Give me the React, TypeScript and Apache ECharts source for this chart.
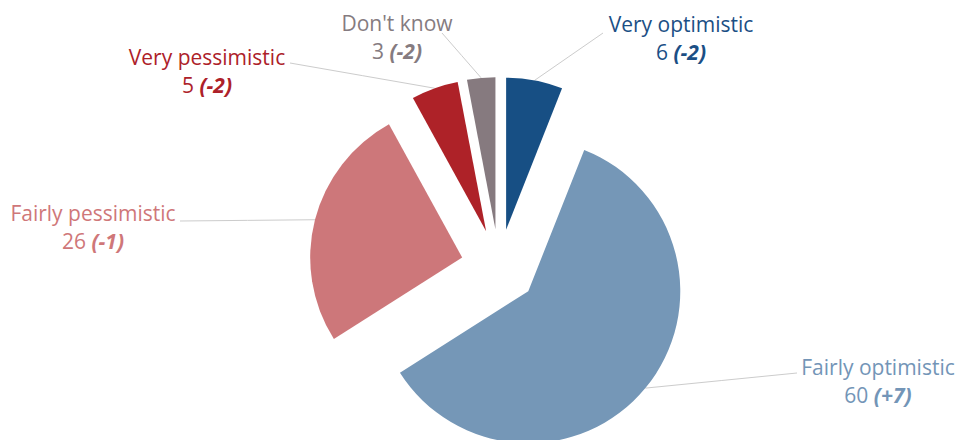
import React, { useEffect, useRef } from 'react';
import * as echarts from 'echarts';

const categories = ['Very optimistic', 'Fairly optimistic', 'Fairly pessimistic', 'Very pessimistic', "Don't know"];
const values = [6, 60, 26, 5, 3];
const changes = ['-2', '+7', '-1', '-2', '-2'];
const sliceColors = ['#174f84', '#7597b7', '#cd777a', '#ae2228', '#867a7f'];
const labelColors = ['#1b4f85', '#7395b7', '#cf7779', '#ad2129', '#857b80'];

// label placement: [center x of text block, middle y of first line]
const labelAnchors = [[681, 24], [878, 367], [93, 213], [207, 57], [397, 23]];
// where each leader line meets its label
const lineEnds = [[603, 33], [797, 373], [180, 221], [290, 63], [442, 33]];

const CX = 499;
const CY = 267;
const R = 152;
const OFFSET = 38;
const FONT = '"Open Sans", "Noto Sans", sans-serif';
const FS = 21;

export default function App() {
  const ref = useRef<HTMLDivElement>(null);
  useEffect(() => {
    document.body.style.margin = '0';
    if (!ref.current) return;
    const chart = echarts.init(ref.current, undefined, { renderer: 'svg' });
    const total = values.reduce((a, b) => a + b, 0);
    const mids: number[] = [];
    let cum = 0;
    values.forEach((v) => {
      mids.push(((cum + v / 2) / total) * Math.PI * 2);
      cum += v;
    });

    const series = categories.map((_, owner) => {
      const a = mids[owner];
      const cx = CX + OFFSET * Math.sin(a);
      const cy = CY - OFFSET * Math.cos(a);
      const data = categories.map((name, i) => {
        if (i !== owner) {
          return {
            name,
            value: values[i],
            itemStyle: { color: 'rgba(0,0,0,0)' },
            label: { show: false },
            labelLine: { show: false },
          };
        }
        const c = labelColors[i];
        return {
          name,
          value: values[i],
          itemStyle: { color: sliceColors[i] },
          label: {
            show: true,
            color: c,
            rich: {
              n: { fontSize: FS, lineHeight: 28, color: c, fontFamily: FONT },
              v: { fontSize: FS, lineHeight: 28, color: c, fontFamily: FONT },
              c: {
                fontSize: FS,
                lineHeight: 28,
                color: c,
                fontFamily: FONT,
                fontWeight: 'bold',
                fontStyle: 'italic',
              },
            },
          },
          labelLine: { show: true },
        };
      });
      return {
        type: 'pie',
        name: categories[owner],
        center: [cx, cy],
        radius: [0, R],
        startAngle: 90,
        clockwise: true,
        avoidLabelOverlap: false,
        silent: true,
        emphasis: { disabled: true },
        label: {
          position: 'outside',
          fontFamily: FONT,
          fontSize: FS,
          formatter: (p: any) => `{n|${p.name}}\n{v|${p.value} }{c|(${changes[p.dataIndex]})}`,
        },
        labelLine: {
          length: 10,
          length2: 10,
          lineStyle: { color: '#cccccc', width: 1 },
        },
        labelLayout: (params: any) => {
          const i = params.dataIndex;
          if (i !== owner) return {};
          const sx = cx + R * Math.sin(a);
          const sy = cy - R * Math.cos(a);
          const [ex, ey] = lineEnds[i];
          return {
            x: labelAnchors[i][0],
            y: labelAnchors[i][1] - 14,
            align: 'center',
            verticalAlign: 'top',
            labelLinePoints: [
              [sx, sy],
              [(sx + ex) / 2, (sy + ey) / 2],
              [ex, ey],
            ],
          };
        },
        data,
      };
    });

    chart.setOption({ animation: false, series });
    return () => chart.dispose();
  }, []);
  return <div ref={ref} style={{ width: 960, height: 440 }} />;
}
